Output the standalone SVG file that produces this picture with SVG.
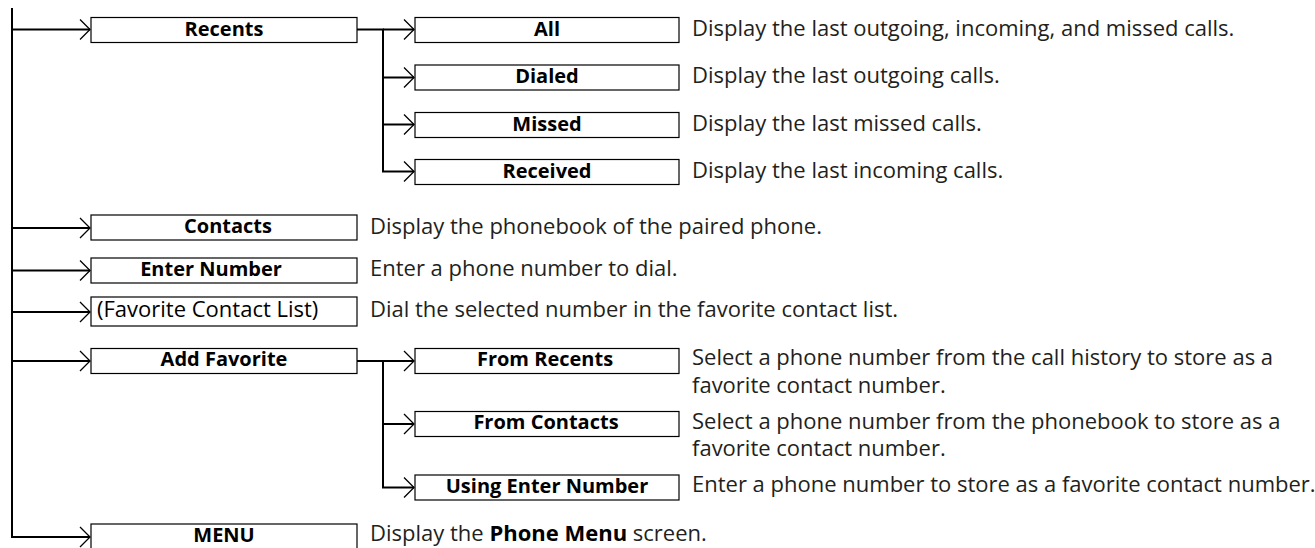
<svg xmlns="http://www.w3.org/2000/svg" width="1315" height="548" viewBox="0 0 1315 548">
<style>
.box{fill:#fff;stroke:#000;stroke-width:1.2}
.lbl{font-family:"Open Sans","Noto Sans","Liberation Sans",sans-serif;font-size:20px;font-weight:bold;fill:#000;text-anchor:middle}
.lblr{font-family:"Open Sans","Noto Sans","Liberation Sans",sans-serif;font-size:22px;fill:#000}
.desc{font-family:"Open Sans","Noto Sans","Liberation Sans",sans-serif;font-size:22px;fill:#231f20}
.ln{fill:none;stroke:#000;stroke-width:2}
.ar{fill:none;stroke:#000;stroke-width:2;marker-end:url(#chev)}
</style>
<defs>
<marker id="chev" markerUnits="userSpaceOnUse" viewBox="-1 -1 13 22" markerWidth="13" markerHeight="22" refX="10" refY="10" orient="auto">
<path d="M0,0 L10,10 L0,20" fill="none" stroke="#000" stroke-width="1.3"/>
</marker>
</defs>
<g id="connectors">
<path class="ln" d="M12,8 V537 H80"/>
<path class="ar" d="M12,29.5 H90"/>
<path class="ar" d="M12,228 H90"/>
<path class="ar" d="M12,270.5 H90"/>
<path class="ar" d="M12,312 H90"/>
<path class="ar" d="M12,361 H90"/>
<path class="ar" d="M70,537 H90"/>
<path class="ln" d="M357,29.5 H383 V171.5"/>
<path class="ar" d="M383,29.5 H414"/>
<path class="ar" d="M383,77.5 H414"/>
<path class="ar" d="M383,124.5 H414"/>
<path class="ar" d="M382,171.5 H414"/>
<path class="ln" d="M357,361 H383 V487.5"/>
<path class="ar" d="M383,361 H414"/>
<path class="ar" d="M383,424 H414"/>
<path class="ar" d="M382,487.5 H414"/>
</g>
<g id="recents"><rect class="box" x="91" y="17.5" width="266" height="25"/><text class="lbl" x="224" y="35.5">Recents</text></g>
<g id="all"><rect class="box" x="415" y="17.5" width="264" height="25"/><text class="lbl" x="547" y="35.5">All</text><text class="desc" x="692" y="35.5">Display the last outgoing, incoming, and missed calls.</text></g>
<g id="dialed"><rect class="box" x="415" y="65" width="264" height="25"/><text class="lbl" x="547" y="83">Dialed</text><text class="desc" x="692" y="83">Display the last outgoing calls.</text></g>
<g id="missed"><rect class="box" x="415" y="112.5" width="264" height="25"/><text class="lbl" x="547" y="130.5">Missed</text><text class="desc" x="692" y="130.5">Display the last missed calls.</text></g>
<g id="received"><rect class="box" x="415" y="159.5" width="264" height="25"/><text class="lbl" x="547" y="177.5">Received</text><text class="desc" x="692" y="177.5">Display the last incoming calls.</text></g>
<g id="contacts"><rect class="box" x="91" y="215" width="266" height="25"/><text class="lbl" x="228" y="233">Contacts</text><text class="desc" x="370" y="233.5">Display the phonebook of the paired phone.</text></g>
<g id="enter-number"><rect class="box" x="91" y="258" width="266" height="25"/><text class="lbl" x="211" y="276">Enter Number</text><text class="desc" x="370" y="276">Enter a phone number to dial.</text></g>
<g id="favorite-list"><rect class="box" x="91" y="297" width="266" height="29"/><text class="lblr" x="97" y="316.5">(Favorite Contact List)</text><text class="desc" x="370" y="316.5">Dial the selected number in the favorite contact list.</text></g>
<g id="add-favorite"><rect class="box" x="91" y="348.5" width="266" height="25"/><text class="lbl" x="224" y="366">Add Favorite</text></g>
<g id="from-recents"><rect class="box" x="415" y="348.5" width="264" height="25"/><text class="lbl" x="545" y="366">From Recents</text><text class="desc" x="692" y="365">Select a phone number from the call history to store as a</text><text class="desc" x="692" y="392.5">favorite contact number.</text></g>
<g id="from-contacts"><rect class="box" x="415" y="411.5" width="264" height="25"/><text class="lbl" x="546" y="429">From Contacts</text><text class="desc" x="692" y="428.5">Select a phone number from the phonebook to store as a</text><text class="desc" x="692" y="456">favorite contact number.</text></g>
<g id="using-enter-number"><rect class="box" x="415" y="475" width="264" height="25"/><text class="lbl" x="547" y="492.5">Using Enter Number</text><text class="desc" x="692" y="491.5">Enter a phone number to store as a favorite contact number.</text></g>
<g id="menu"><rect class="box" x="91" y="524" width="266" height="30"/><text class="lbl" x="224" y="542">MENU</text><text class="desc" x="370" y="541">Display the <tspan font-weight="bold" fill="#000">Phone Menu</tspan> screen.</text></g>
</svg>
